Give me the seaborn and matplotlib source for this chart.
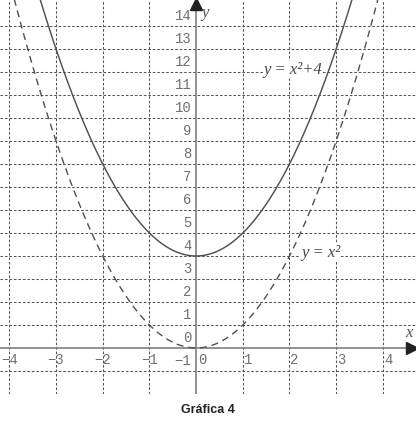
import numpy as np
import pandas as pd
import matplotlib
matplotlib.use("Agg")
import matplotlib.pyplot as plt
import seaborn as sns

# ---- data ----
x_ticks = [-4, -3, -2, -1, 1, 2, 3, 4]
y_ticks = [-1, 0, 1, 2, 3, 4, 5, 6, 7, 8, 9, 10, 11, 12, 13, 14]
shift_upper = 4          # y = x^2 + 4
shift_lower = 0          # y = x^2
title = "Gráfica 4"
label_upper = "y = x\u00b2+4"
label_lower = "y = x\u00b2"

xlim = (-4.2, 4.71)
ylim = (-2.0, 15.13)

sns.set_theme(style="white")

fig = plt.figure(figsize=(4.16, 4.25), dpi=100)
ax = fig.add_axes([0, 31/425, 1, 1 - 31/425])
ax.set_xlim(*xlim)
ax.set_ylim(*ylim)
ax.axis("off")

grid_kw = dict(color="#555555", lw=0.75, dashes=(2.5, 1.8), zorder=1)
for yv in y_ticks:
    if yv != 0:
        ax.axhline(yv, **grid_kw)
for xv in x_ticks:
    ax.axvline(xv, **grid_kw)

# axes
ax.axhline(0, color="#808080", lw=1.2, zorder=2)
ax.axvline(0, color="#808080", lw=1.2, zorder=2)
ax.plot([xlim[1] - 0.09], [0], marker=">", ms=8, color="#222222", clip_on=False, zorder=5)
ax.plot([0], [ylim[1] - 0.18], marker="^", ms=8, color="#222222", clip_on=False, zorder=5)

# curves
xs_u = np.linspace(-3.4, 3.4, 300)
df_u = pd.DataFrame({"x": xs_u, "y": xs_u**2 + shift_upper})
xs_l = np.linspace(-3.95, 3.95, 300)
df_l = pd.DataFrame({"x": xs_l, "y": xs_l**2 + shift_lower})
sns.lineplot(data=df_u, x="x", y="y", ax=ax, color="#505050", lw=1.05, sort=False, zorder=3)
sns.lineplot(data=df_l, x="x", y="y", ax=ax, color="#505050", lw=1.0, sort=False,
             zorder=3).lines[-1].set_dashes((5, 3.5))

tick_kw = dict(family="Liberation Mono", fontsize=10, color="#707070", zorder=4)
for xv in x_ticks:
    lab = str(xv).replace("-", "\u2212")
    if xv < 0:
        ax.text(xv, -0.52, lab, ha="center", va="center", **tick_kw)
    else:
        ax.text(xv + 0.02, -0.52, lab, ha="left", va="center", **tick_kw)
ax.text(0.04, -0.52, "0", ha="left", va="center", **tick_kw)
for yv in y_ticks:
    lab = str(yv).replace("-", "\u2212")
    ax.text(-0.1, yv + 0.12, lab, ha="right", va="bottom", **tick_kw)

ax.text(4.55, 0.65, "x", family="Liberation Serif", style="italic", fontsize=12,
        color="#555555", ha="center", va="center")
ax.text(0.2, 14.55, "y", family="Liberation Serif", style="italic", fontsize=12,
        color="#555555", ha="center", va="center")

lab_kw = dict(family="Liberation Serif", style="italic", fontsize=12, color="#444444",
              ha="left", va="center", zorder=4,
              bbox=dict(facecolor="white", edgecolor="none", pad=0.5))
ax.text(1.45, 12.1, label_upper, **lab_kw)
ax.text(2.25, 4.15, label_lower, **lab_kw)

fig.text(0.5, 1 - 410/425, title, family="Liberation Sans", fontweight="bold",
         fontsize=9, ha="center", va="center", color="#222222")

fig.savefig("out.png", dpi=100)
